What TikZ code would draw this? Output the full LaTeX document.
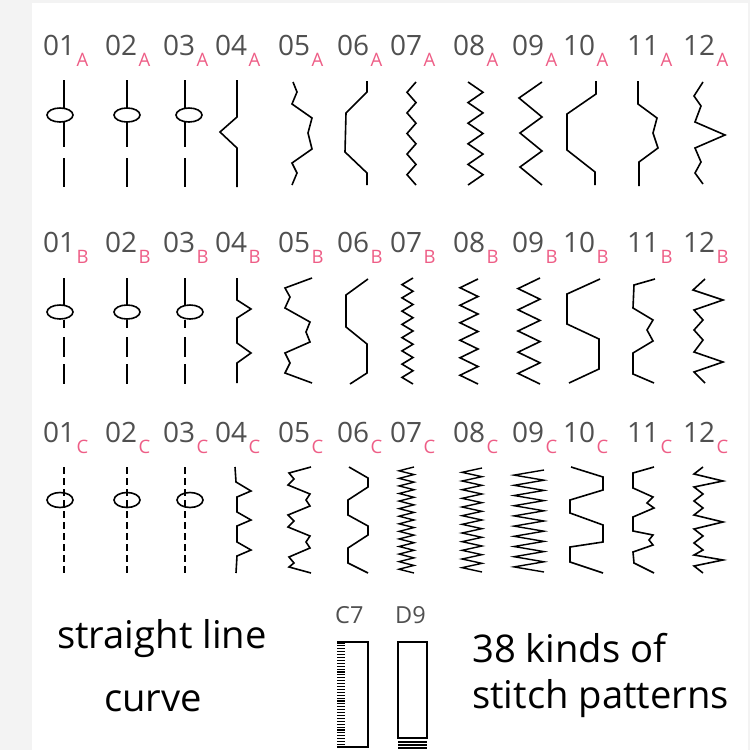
\documentclass[tikz,border=0pt]{standalone}
\usepackage{fontspec}
\setmainfont{Open Sans}
\definecolor{numgray}{HTML}{505050}
\definecolor{subpink}{HTML}{EE5D86}
\definecolor{bggray}{HTML}{F3F3F3}
\newcommand{\zigz}[5]{% startx, altx, ytop, ybot, segments
  \draw[stitch] (#1,#3) \foreach \k in {1,...,#5}{ -- ({ifthenelse(mod(\k,2)==0,#1,#2)},{#3+\k*(#4-#3)/#5}) };}
\begin{document}
\begin{tikzpicture}[x=1pt,y=-1pt,
  stitch/.style={line width=1.6pt,black},
  num/.style={inner sep=0pt,anchor=base west,font=\fontsize{28}{28}\selectfont,text=numgray},
  sub/.style={inner sep=0pt,anchor=base west,font=\fontsize{18.5}{18.5}\selectfont,text=subpink},
  big/.style={inner sep=0pt,anchor=base west,font=\fontsize{38.2}{38.2}\selectfont,text=black},
  small/.style={inner sep=0pt,anchor=base west,font=\fontsize{23.5}{23.5}\selectfont,text=numgray},
  eye/.style={line width=1.6pt,black}]
\useasboundingbox (0,0) rectangle (750,750);
\fill[bggray] (0,0) rectangle (750,750);
\fill[white] (32,3) rectangle (748,750);
% labels
\foreach \r/\yb/\l in {A/55/A,B/252/B,C/442/C}{
  \foreach \x/\t [count=\i] in {43/01,105/02,163/03,215/04,278/05,337/06,390/07,453/08,512/09,563/10,627/11,683/12}{
    \node[num] (n\r\i) at (\x,\yb) {\t};
    \node[sub] (s\r\i) at ([xshift=1pt,yshift=-11pt]n\r\i.base east) {\l};
  }
}
% ===== Row A =====
\foreach \x/\ex in {64/60,127/127,185/189}{
  \draw[stitch] (\x,80) -- (\x,108);
  \draw[eye] (\ex,115) ellipse [x radius=13pt,y radius=7pt];
  \draw[stitch] (\x,122) -- (\x,147);
  \draw[stitch] (\x,158) -- (\x,187);
}
\draw[stitch] (237,80) -- (237,117) -- (220,132) -- (237,148) -- (237,187);
\draw[stitch] (293,82)--(297,92)--(292,104)--(312,118)--(308,133)--(312,149)--(292,163)--(297,173)--(292,185);
\draw[stitch] (367,81)--(367,92)--(346,113)--(345,152)--(367,173)--(367,185);
\zigz{416}{407}{82}{185}{10}
\zigz{468}{483}{82}{185}{10}
\draw[stitch] (542,82)--(519,98)--(542,117)--(520,133)--(542,151)--(520,167)--(542,185);
\draw[stitch] (596,81)--(596,94)--(567,114)--(567,150)--(595,172)--(595,185);
\draw[stitch] (638,81)--(638,104)--(657,118)--(653,133)--(658,148)--(639,162)--(639,186);
\draw[stitch] (703,82)--(694,96)--(701,106)--(695,122)--(725,135)--(695,148)--(701,162)--(695,173)--(703,184);
% ===== Row B =====
\foreach \x/\ex in {64/60,127/127,185/190}{
  \draw[stitch] (\x,278) -- (\x,305);
  \draw[eye] (\ex,312) ellipse [x radius=13pt,y radius=7pt];
  \draw[stitch] (\x,320) -- (\x,328);
  \draw[stitch] (\x,337) -- (\x,357);
  \draw[stitch] (\x,364) -- (\x,384);
}
\draw[stitch] (237,278)--(237,300)--(251,309)--(237,318)--(237,343)--(251,353)--(237,363)--(237,383);
\draw[stitch] (312,278)--(285,288)--(290,297)--(285,308)--(310,322)--(306,332)--(310,342)--(285,353)--(290,363)--(285,373)--(312,383);
\draw[stitch] (368,279)--(346,295)--(346,327)--(367,344)--(367,373)--(350,384);
\zigz{413}{402}{278}{384}{16}
\zigz{478}{460}{279}{384}{12}
\zigz{540}{518}{278}{384}{10}
\draw[stitch] (600,279)--(567,294)--(567,324)--(599,339)--(599,369)--(569,383);
\draw[stitch] (655,279)--(634,285)--(633,308)--(653,320)--(647,330)--(653,341)--(633,353)--(633,374)--(654,383);
\draw[stitch] (705,279)--(693,290)--(723,300)--(694,310)--(703,320)--(694,330)--(703,340)--(694,352)--(723,362)--(694,372)--(705,383);
% ===== Row C =====
\foreach \x/\ex in {64/60,127/127,185/190}{
  \draw[stitch,dash pattern=on 7pt off 4pt] (\x,467) -- (\x,573);
  \draw[eye] (\ex,500) ellipse [x radius=13pt,y radius=7.5pt];
}
\draw[stitch] (235,467)--(236,482)--(251,491)--(237,497)--(237,512)--(251,520)--(237,526)--(237,542)--(251,550)--(237,556)--(236,573);
\draw[stitch] (311,467)--(289,473)--(294,479)--(288,485)--(310,494)--(306,500)--(310,506)--(288,515)--(294,521)--(288,527)--(310,536)--(306,542)--(310,548)--(289,557)--(294,563)--(289,567)--(311,573);
\draw[stitch] (349,467)--(368,478)--(368,487)--(348,500)--(348,515)--(368,526)--(368,535)--(348,548)--(348,563)--(368,573);
\begin{scope}[stitch/.style={line width=1.4pt,black}]
\zigz{414}{399}{467}{573}{28}
\zigz{482}{462}{468}{572}{24}
\zigz{544}{514}{470}{572}{20}
\end{scope}
\draw[stitch] (571,467)--(603,477)--(603,490)--(570,500)--(570,513)--(603,525)--(603,542)--(570,547)--(570,562)--(603,573);
\draw[stitch] (654,467)--(633,473)--(633,488)--(653,497)--(647,503)--(654,508)--(633,517)--(633,531)--(653,535)--(649,540)--(653,545)--(633,552)--(634,563)--(654,573);
\draw[stitch] (703,467)--(694,474)--(723,481)--(694,487)--(703,494)--(694,501)--(703,508)--(694,515)--(723,522)--(694,529)--(703,536)--(694,543)--(703,550)--(694,555)--(723,560)--(694,566)--(703,573);
% ===== bottom =====
\node[big] (t1) at (57,648) {straight line};
\node[big] (t2) at (104,711) {curve};
\node[big] (t3) at (472,662) {38 kinds of};
\node[big] (t4) at (472,708) {stitch patterns};
\node[small] (c7) at (335,623) {C7};
\node[small] (d9) at (395,623) {D9};
\draw[line width=1.5pt] (337,642) -- (368,642) -- (368,747) -- (337,747);
\foreach \k in {0,...,35}{\draw[line width=1.1pt] (337,{643+\k*2.9}) -- (345,{643+\k*2.9});}
\draw[line width=1.5pt] (398,642) rectangle (427,738);
\foreach \yy in {742,745,748}{\draw[line width=1.1pt] (398,\yy) -- (427,\yy);}
\end{tikzpicture}
\end{document}
